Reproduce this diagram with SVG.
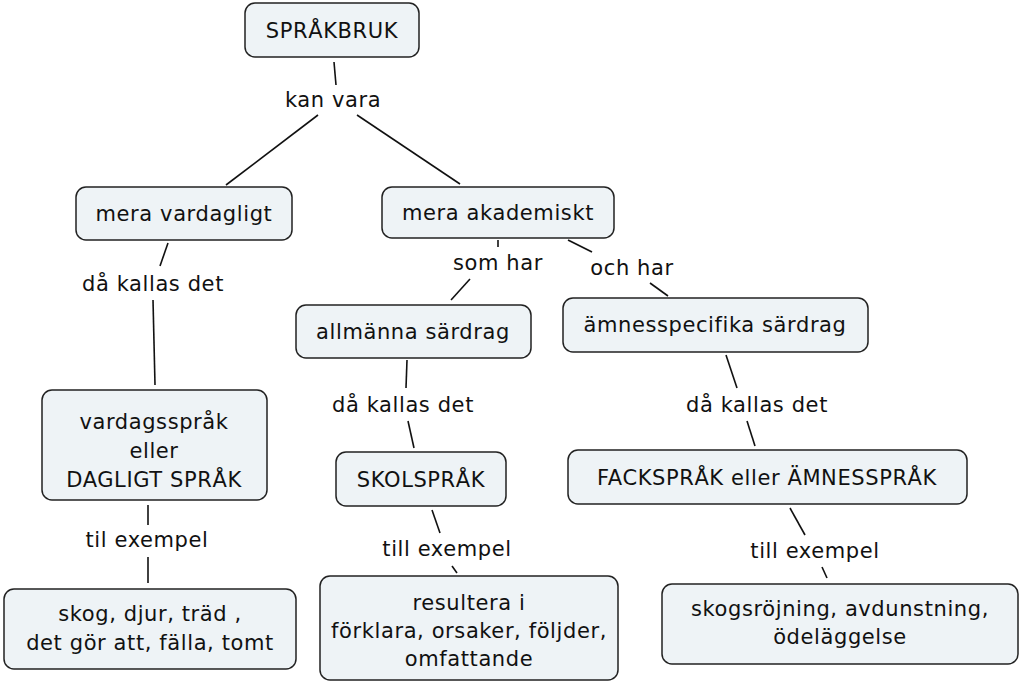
<svg xmlns="http://www.w3.org/2000/svg" width="1023" height="686" viewBox="0 0 1023 686">
<style>
rect{fill:#eef3f6;stroke:#222;stroke-width:1.5}
text{font-family:"DejaVu Sans",Verdana,sans-serif;font-size:21px;letter-spacing:0.6px;fill:#111;text-anchor:middle}
.c line{stroke:#111;stroke-width:1.6}
</style>
<rect x="0" y="0" width="1023" height="686" style="fill:#fff;stroke:none"/>
<g class="c">
<line x1="334" y1="62" x2="336" y2="85"/>
<line x1="318" y1="115" x2="226" y2="185"/>
<line x1="357" y1="115" x2="460" y2="184"/>
<line x1="168" y1="243" x2="160" y2="266"/>
<line x1="153" y1="300" x2="155" y2="385"/>
<line x1="498" y1="240" x2="498" y2="247"/>
<line x1="470" y1="279" x2="451" y2="300"/>
<line x1="568" y1="240" x2="592" y2="252"/>
<line x1="650" y1="283" x2="668" y2="296"/>
<line x1="407" y1="360" x2="406" y2="388"/>
<line x1="408" y1="421" x2="414" y2="448"/>
<line x1="726" y1="355" x2="737" y2="388"/>
<line x1="747" y1="421" x2="755" y2="446"/>
<line x1="148" y1="505" x2="148" y2="525"/>
<line x1="148" y1="557" x2="148" y2="583"/>
<line x1="432" y1="510" x2="440" y2="533"/>
<line x1="452" y1="566" x2="457" y2="573"/>
<line x1="790" y1="508" x2="805" y2="535"/>
<line x1="822" y1="567" x2="827" y2="578"/>
</g>
<g id="l1"><text x="333" y="107">kan vara</text></g>
<g id="l2"><text x="153" y="291">då kallas det</text></g>
<g id="l3"><text x="498" y="270">som har</text></g>
<g id="l4"><text x="632" y="275">och har</text></g>
<g id="l5"><text x="403" y="412">då kallas det</text></g>
<g id="l6"><text x="757" y="412">då kallas det</text></g>
<g id="l7"><text x="147" y="547">til exempel</text></g>
<g id="l8"><text x="447" y="556">till exempel</text></g>
<g id="l9"><text x="815" y="558">till exempel</text></g>
<g id="n1"><rect x="245" y="3" width="174" height="54" rx="10"/><text x="332" y="38">SPRÅKBRUK</text></g>
<g id="n2"><rect x="76" y="187" width="216" height="53" rx="10"/><text x="184" y="221">mera vardagligt</text></g>
<g id="n3"><rect x="382" y="187" width="232" height="51" rx="10"/><text x="498" y="220">mera akademiskt</text></g>
<g id="n4"><rect x="296" y="305" width="235" height="53" rx="10"/><text x="413" y="339">allmänna särdrag</text></g>
<g id="n5"><rect x="563" y="298" width="305" height="54" rx="10"/><text x="715" y="332">ämnesspecifika särdrag</text></g>
<g id="n6"><rect x="42" y="390" width="225" height="110" rx="10"/><text x="154" y="429">vardagsspråk</text><text x="154" y="458">eller</text><text x="154" y="487">DAGLIGT SPRÅK</text></g>
<g id="n7"><rect x="336" y="452" width="170" height="54" rx="10"/><text x="421" y="487">SKOLSPRÅK</text></g>
<g id="n8"><rect x="568" y="450" width="399" height="54" rx="10"/><text x="767" y="485">FACKSPRÅK eller ÄMNESSPRÅK</text></g>
<g id="n9"><rect x="4" y="589" width="292" height="80" rx="10"/><text x="150" y="621">skog, djur, träd ,</text><text x="150" y="650">det gör att, fälla, tomt</text></g>
<g id="n10"><rect x="320" y="576" width="298" height="104" rx="10"/><text x="469" y="610">resultera i</text><text x="469" y="638">förklara, orsaker, följder,</text><text x="469" y="666">omfattande</text></g>
<g id="n11"><rect x="662" y="584" width="356" height="80" rx="10"/><text x="840" y="616">skogsröjning, avdunstning,</text><text x="840" y="644">ödeläggelse</text></g>
</svg>
